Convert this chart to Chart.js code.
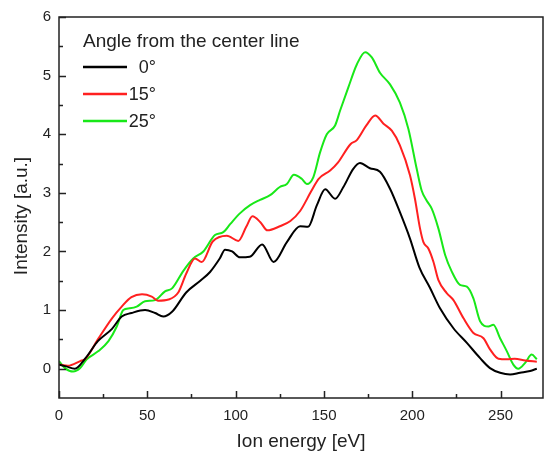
<!DOCTYPE html>
<html>
<head>
<meta charset="utf-8">
<script src="https://cdn.jsdelivr.net/npm/chart.js@4/dist/chart.umd.min.js"></script>
<style>
  html, body { margin: 0; padding: 0; background: #fff; }
</style>
</head>
<body>
<canvas id="ionChart" width="544" height="457"></canvas>
<script>
// data: energies in eV, intensities in a.u.
const energy0 = [0, 4, 9, 15, 22, 30, 35.5, 41, 48.7, 54.4, 59, 64, 72, 80, 85.5, 91, 94, 98, 102.4, 108, 115, 121.5, 129, 136.5, 141, 146, 150.7, 156.3, 161, 166.6, 170.4, 176, 181.7, 187.4, 193, 198.7, 204, 210, 215.7, 223.3, 230.9, 238.4, 244, 249.7, 255.4, 261, 266.7, 270.5];
const intensity0 = [0.07, 0.04, 0.0, 0.18, 0.47, 0.68, 0.89, 0.95, 1.0, 0.95, 0.89, 0.97, 1.3, 1.5, 1.65, 1.88, 2.03, 2.0, 1.9, 1.91, 2.12, 1.82, 2.16, 2.43, 2.42, 2.79, 3.06, 2.9, 3.1, 3.41, 3.51, 3.42, 3.36, 3.07, 2.67, 2.22, 1.73, 1.38, 1.03, 0.69, 0.44, 0.18, 0.01, -0.07, -0.1, -0.07, -0.04, 0.0];

const energy15 = [0, 5, 12, 15, 22, 30, 35.5, 41, 47, 52.5, 56, 62, 67.5, 72, 77, 80.8, 87, 95, 101.5, 106, 109.5, 114, 118, 125, 131, 136.5, 143, 147, 153.5, 158, 165, 168.6, 174, 179, 183.7, 188.4, 193, 198.7, 201.5, 204.4, 206.3, 209.1, 212, 214.8, 219.5, 223.3, 229, 234.6, 240.3, 244, 248.8, 253.5, 258, 264, 270.5];
const intensity15 = [0.07, 0.05, 0.13, 0.17, 0.5, 0.86, 1.06, 1.22, 1.27, 1.23, 1.16, 1.18, 1.3, 1.62, 1.88, 1.82, 2.17, 2.27, 2.18, 2.42, 2.6, 2.5, 2.36, 2.43, 2.52, 2.69, 3.04, 3.24, 3.38, 3.52, 3.83, 3.9, 4.15, 4.32, 4.18, 4.06, 3.81, 3.3, 2.9, 2.39, 2.16, 2.05, 1.82, 1.51, 1.29, 1.17, 0.86, 0.61, 0.52, 0.33, 0.17, 0.16, 0.17, 0.14, 0.12];

const energy25 = [0, 3.4, 8, 12, 15.7, 22.3, 28, 32.7, 36.4, 40, 44, 48.7, 54.4, 60, 64, 70.4, 76, 81.7, 88.3, 93, 97, 102.4, 108.2, 113.8, 119.5, 125, 129, 133, 137.4, 140.3, 144, 147.8, 151.6, 156.3, 159.1, 163.8, 168.6, 173.3, 177.1, 181.7, 187.4, 193, 197.8, 202.5, 205.3, 208.1, 211, 214.8, 218.6, 222.3, 227, 230.9, 234.6, 238.4, 243.1, 245.9, 249.7, 253.5, 257.2, 260, 263.9, 267.6, 270.5];
const intensity25 = [0.13, 0.01, -0.05, 0.01, 0.16, 0.3, 0.47, 0.72, 1.0, 1.03, 1.06, 1.15, 1.17, 1.32, 1.37, 1.67, 1.88, 2.0, 2.28, 2.33, 2.47, 2.65, 2.79, 2.88, 2.96, 3.1, 3.15, 3.31, 3.24, 3.15, 3.27, 3.69, 4.0, 4.15, 4.4, 4.8, 5.19, 5.4, 5.31, 5.05, 4.85, 4.54, 4.09, 3.41, 3.04, 2.87, 2.73, 2.39, 1.94, 1.66, 1.43, 1.4, 1.2, 0.81, 0.72, 0.75, 0.52, 0.3, 0.07, 0.0, 0.1, 0.24, 0.16];

const seriesLabels = ['0°', '15°', '25°'];
const legendTitle = 'Angle from the center line';
const xTickValues = [0, 50, 100, 150, 200, 250];
const xMinorValues = [25, 75, 125, 175, 225];
const yTickValues = [0, 1, 2, 3, 4, 5, 6];
const yMinorValues = [0.5, 1.5, 2.5, 3.5, 4.5, 5.5];
const xTitle = 'Ion energy [eV]';
const yTitle = 'Intensity [a.u.]';

const FONT = '"Liberation Sans", Arial, sans-serif';
const INK = '#222';

function toPoints(xs, ys) {
  return xs.map((x, i) => ({ x: x, y: ys[i] }));
}

function makeSeries(label, xs, ys, color) {
  return {
    label: label,
    data: toPoints(xs, ys),
    borderColor: color,
    borderWidth: 2,
    pointRadius: 0,
    fill: false,
    cubicInterpolationMode: 'monotone'
  };
}

// frame, inward ticks, legend box and y title drawn on top of the chart
const framePlugin = {
  id: 'frame',
  afterDraw(chart) {
    const ctx = chart.ctx;
    const { left, right, top, bottom } = chart.chartArea;
    const xs = chart.scales.x, ys = chart.scales.y;
    ctx.save();
    ctx.strokeStyle = INK;
    ctx.lineWidth = 1.5;
    ctx.strokeRect(left, top, right - left, bottom - top);

    ctx.beginPath();
    xTickValues.forEach(v => { const p = Math.round(xs.getPixelForValue(v)) + 0.5; ctx.moveTo(p, bottom); ctx.lineTo(p, bottom - 7); });
    xMinorValues.forEach(v => { const p = Math.round(xs.getPixelForValue(v)) + 0.5; ctx.moveTo(p, bottom); ctx.lineTo(p, bottom - 4); });
    yTickValues.forEach(v => { const p = Math.round(ys.getPixelForValue(v)) + 0.5; ctx.moveTo(left, p); ctx.lineTo(left + 7, p); });
    yMinorValues.forEach(v => { const p = Math.round(ys.getPixelForValue(v)) + 0.5; ctx.moveTo(left, p); ctx.lineTo(left + 4, p); });
    ctx.stroke();

    // legend
    ctx.fillStyle = INK;
    ctx.font = '19px ' + FONT;
    ctx.textAlign = 'left';
    ctx.textBaseline = 'alphabetic';
    ctx.fillText(legendTitle, 83, 47);
    chart.data.datasets.forEach((ds, i) => {
      const y = 67 + i * 27;
      ctx.strokeStyle = ds.borderColor;
      ctx.lineWidth = 2.5;
      ctx.beginPath();
      ctx.moveTo(83, y);
      ctx.lineTo(127, y);
      ctx.stroke();
      ctx.fillStyle = INK;
      ctx.font = '18px ' + FONT;
      ctx.textAlign = 'right';
      ctx.textBaseline = 'middle';
      ctx.fillText(ds.label, 156, y + 1);
    });

    // y axis title
    ctx.translate(22, 216);
    ctx.rotate(-Math.PI / 2);
    ctx.font = '19px ' + FONT;
    ctx.textAlign = 'center';
    ctx.textBaseline = 'middle';
    ctx.fillStyle = INK;
    ctx.fillText(yTitle, 0, 0);
    ctx.restore();
  }
};

new Chart(document.getElementById('ionChart'), {
  type: 'line',
  data: {
    datasets: [
      makeSeries(seriesLabels[0], energy0, intensity0, '#000000'),
      makeSeries(seriesLabels[1], energy15, intensity15, '#ff2020'),
      makeSeries(seriesLabels[2], energy25, intensity25, '#18e818')
    ]
  },
  options: {
    responsive: false,
    animation: false,
    devicePixelRatio: 1,
    layout: { padding: { top: 14, right: 1, left: 0, bottom: 0 } },
    plugins: { legend: { display: false }, tooltip: { enabled: false } },
    scales: {
      x: {
        type: 'linear',
        min: 0,
        max: 274,
        afterBuildTicks: s => { s.ticks = xTickValues.map(v => ({ value: v })); },
        afterFit: s => { s.height = 59; },
        grid: { display: false, drawTicks: false },
        border: { display: false },
        ticks: { color: INK, font: { family: FONT, size: 15 }, padding: 9, maxRotation: 0 },
        title: { display: true, text: xTitle, color: INK, font: { family: FONT, size: 19 }, padding: { top: 0, bottom: 4 } }
      },
      y: {
        type: 'linear',
        min: -0.5,
        max: 6,
        afterBuildTicks: s => { s.ticks = yTickValues.map(v => ({ value: v })); },
        afterFit: s => { s.width = 59; },
        grid: { display: false, drawTicks: false },
        border: { display: false },
        ticks: { color: INK, font: { family: FONT, size: 15 }, padding: 8 }
      }
    }
  },
  plugins: [framePlugin]
});
</script>
</body>
</html>
